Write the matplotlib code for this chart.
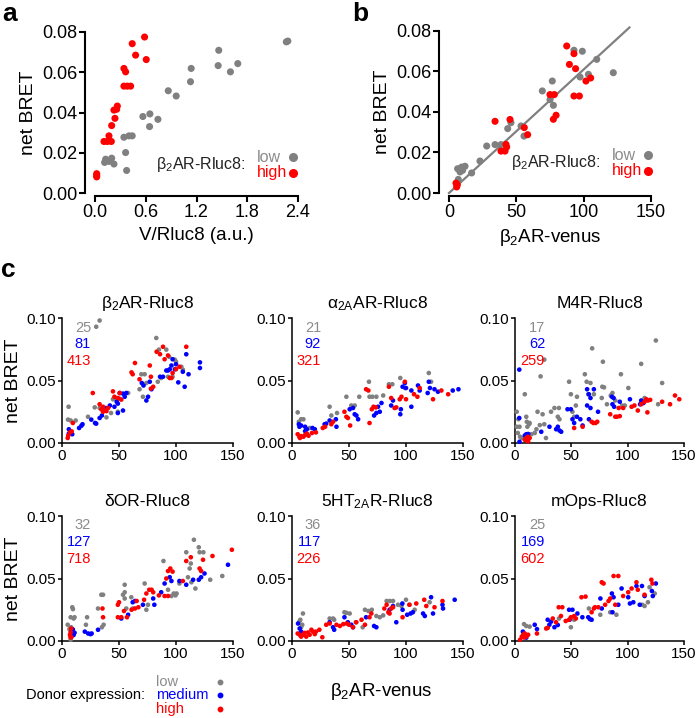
import matplotlib
matplotlib.use("Agg")
import matplotlib.pyplot as plt
import numpy as np

plt.rcParams['font.family'] = ['Liberation Sans', 'DejaVu Sans']
plt.rcParams['mathtext.fontset'] = 'custom'
plt.rcParams['mathtext.rm'] = 'Liberation Sans'
plt.rcParams['mathtext.it'] = 'Liberation Sans:italic'
plt.rcParams['mathtext.bf'] = 'Liberation Sans:bold'

GRAY = '#808080'
LGRAY = '#8c8c8c'
BLUE = '#0000FF'
RED = '#FF0000'

# ---------------- data ----------------
a_low = [(0.126, 0.0168), (0.165, 0.0157), (0.197, 0.0173), (0.224, 0.0144), (0.114, 0.0152),
         (0.362, 0.0201), (0.374, 0.0112), (0.342, 0.0277), (0.401, 0.0284), (0.44, 0.0284),
         (0.566, 0.0380), (0.649, 0.0393), (0.645, 0.0330), (0.744, 0.0366), (0.866, 0.0508),
         (0.96, 0.0482), (1.129, 0.0553), (1.137, 0.0619), (1.463, 0.0709), (1.456, 0.0633),
         (1.601, 0.0602), (1.688, 0.0643), (2.262, 0.0751), (2.28, 0.0755)]
a_high = [(0.02, 0.0096), (0.02, 0.0088), (0.02, 0.0080), (0.106, 0.0256), (0.146, 0.0256),
          (0.193, 0.0256), (0.165, 0.0284), (0.197, 0.0335), (0.236, 0.0371), (0.224, 0.0412),
          (0.256, 0.0416), (0.264, 0.0432), (0.342, 0.0619), (0.362, 0.0602), (0.342, 0.0531),
          (0.382, 0.0531), (0.421, 0.0531), (0.44, 0.0742), (0.48, 0.0685), (0.586, 0.0775),
          (0.606, 0.0663)]

b_low = [(6.9, 0.0067), (6.4, 0.0120), (9.4, 0.0128), (11.9, 0.0132), (10.1, 0.0112), (8.2, 0.0104),
         (16.8, 0.0099), (23, 0.0158), (28, 0.0232), (34.2, 0.0239), (38.6, 0.0239), (43.6, 0.0318),
         (46, 0.0347), (53.5, 0.0331), (55.7, 0.0281), (69.3, 0.0504), (75, 0.0461), (76.7, 0.0553),
         (77.5, 0.0433), (92.8, 0.0705), (99, 0.0700), (97.3, 0.0573), (103.5, 0.0586),
         (109.7, 0.0660), (122, 0.0594)]
b_high = [(5.2, 0.0049), (5.7, 0.0030), (6.2, 0.0041), (34.2, 0.0354), (38.6, 0.0207), (41.6, 0.0207),
          (42.3, 0.0240), (42.8, 0.0227), (45.3, 0.0363), (55.9, 0.0323), (58.4, 0.0288),
          (75, 0.0486), (78.2, 0.0486), (77.5, 0.0364), (79.5, 0.0384), (87.4, 0.0726),
          (89.4, 0.0635), (92.8, 0.0688), (94, 0.0614), (92.8, 0.0479), (96.8, 0.0479),
          (101.7, 0.0553), (105.2, 0.0568)]
b_fit_slope = 0.00061
b_fit_range = (0, 134)

c_titles = ['β$_2$AR-Rluc8', 'α$_{\\mathregular{2A}}$AR-Rluc8', 'M4R-Rluc8',
            'δOR-Rluc8', '5HT$_{\\mathregular{2A}}$R-Rluc8', 'mOps-Rluc8']
c_counts = [(25, 81, 413), (21, 92, 321), (17, 62, 259),
            (32, 127, 718), (36, 117, 226), (25, 169, 602)]

c1_low = [(30, 0.093), (33, 0.098), (5.8, 0.029), (5.3, 0.0187), (7.6, 0.018), (12, 0.018),
          (22.8, 0.021), (28.7, 0.0285), (33, 0.028), (36, 0.0275), (39, 0.0205), (43, 0.024),
          (44.7, 0.035), (47.7, 0.035), (50.6, 0.0355), (49, 0.025), (58, 0.040), (68, 0.043),
          (71, 0.037), (69.6, 0.055), (72.5, 0.055), (74, 0.048), (82.7, 0.084), (85, 0.0747),
          (84, 0.049), (87, 0.052), (91.5, 0.0747), (94, 0.069), (99, 0.0667), (100, 0.065),
          (104.7, 0.061), (106, 0.0587), (97, 0.053), (93, 0.053)]
c1_med = [(6, 0.011), (9, 0.007), (7.5, 0.009), (6, 0.0075), (15, 0.012), (17, 0.0138), (18, 0.015),
          (25.7, 0.0187), (29, 0.016), (30, 0.0155), (33, 0.020), (35, 0.022), (39, 0.028),
          (42, 0.030), (46, 0.029), (49, 0.0315), (48, 0.033), (50.6, 0.040), (53.5, 0.0395),
          (55, 0.037), (56.4, 0.040), (49, 0.024), (53.5, 0.026), (70, 0.048), (71.5, 0.046),
          (74, 0.034), (75.5, 0.037), (77, 0.049), (78.5, 0.043), (86, 0.053), (88.6, 0.053),
          (91.5, 0.058), (93, 0.058), (94.5, 0.059), (96, 0.062), (97, 0.067), (99, 0.059),
          (100, 0.063), (102, 0.0485), (106, 0.057), (107.6, 0.045), (109, 0.071),
          (111, 0.055), (121, 0.0645), (121, 0.060)]
c1_high = [(5, 0.004), (5.5, 0.006), (7, 0.0085), (8.5, 0.0093), (9.5, 0.016), (27, 0.040),
           (33, 0.031), (36, 0.029), (37.5, 0.026), (39, 0.0255), (40.5, 0.028), (36, 0.025),
           (34.5, 0.027), (44.7, 0.0413), (46, 0.037), (49, 0.036), (50.6, 0.040), (52, 0.0347),
           (64, 0.064), (61, 0.0565), (62, 0.055), (68, 0.051), (78, 0.0435), (80, 0.045),
           (77, 0.062), (78, 0.053), (83, 0.073), (86, 0.071), (88.6, 0.077), (90, 0.067),
           (93, 0.070), (94.5, 0.052), (96, 0.052), (97, 0.056), (100, 0.059), (103, 0.061),
           (109, 0.077)]

c2_low = [(5, 0.0245), (6, 0.017), (8, 0.019), (10, 0.019), (15.5, 0.012), (33, 0.029),
          (34.5, 0.022), (39.5, 0.024), (47.7, 0.037), (52, 0.030), (55, 0.030), (59, 0.037),
          (67.5, 0.049), (68, 0.037), (70.5, 0.037), (74, 0.037), (80, 0.038), (85, 0.047),
          (88, 0.047), (95, 0.052), (99, 0.044), (120, 0.056), (122, 0.049)]
c2_med = [(6, 0.015), (6.5, 0.013), (8, 0.014), (11.5, 0.013), (13, 0.011), (11.5, 0.0095),
          (18, 0.012), (20, 0.011), (28.6, 0.015), (30, 0.0155), (33, 0.018), (38.5, 0.019),
          (39, 0.013), (50.6, 0.027), (53.5, 0.028), (55, 0.023), (56.5, 0.022), (58, 0.019),
          (72, 0.022), (74, 0.024), (75.5, 0.029), (77, 0.025), (78.5, 0.032), (87, 0.030),
          (88.6, 0.034), (95, 0.023), (95.5, 0.027), (97, 0.045), (99, 0.048), (100, 0.044),
          (104.7, 0.042), (104.7, 0.029), (110.5, 0.046), (112, 0.042), (119, 0.040),
          (121, 0.044), (120, 0.049), (125, 0.043), (128, 0.041), (141, 0.042), (146, 0.043)]
c2_high = [(5, 0.007), (6.5, 0.005), (8, 0.0055), (10, 0.005), (11.5, 0.0065), (13, 0.0075),
           (14.5, 0.0058), (17.5, 0.008), (21, 0.0085), (7, 0.004), (27, 0.012), (29, 0.013),
           (34.5, 0.015), (36, 0.017), (46, 0.025), (47.7, 0.021), (49, 0.020), (51, 0.014),
           (65, 0.043), (67, 0.042), (68, 0.016), (70, 0.027), (71.5, 0.029), (73.5, 0.0285),
           (85, 0.045), (87, 0.036), (90, 0.028), (91.5, 0.0285), (94.5, 0.035), (96, 0.037),
           (99, 0.049), (100, 0.035), (107, 0.039), (110, 0.037), (112, 0.044), (123.7, 0.035),
           (131, 0.042), (137, 0.039)]

c3_low = [(1.5, 0.025), (3, 0.019), (4, 0.013), (1.5, 0.013), (2.5, 0.008), (4.5, 0.005),
          (6, 0.004), (8.7, 0.039), (10, 0.021), (10.5, 0.017), (11, 0.013), (12.5, 0.015),
          (13, 0.016), (14.5, 0.007), (17.5, 0.008), (19, 0.011), (22, 0.0143), (22.7, 0.0533),
          (26, 0.0667), (20, 0.025), (24.5, 0.023), (26, 0.015), (27.5, 0.004), (32, 0.025),
          (35, 0.028), (38, 0.021), (39.5, 0.019), (39, 0.028), (48, 0.049), (49.6, 0.039),
          (51, 0.025), (52.5, 0.021), (55, 0.037), (54, 0.030), (62, 0.055), (63.6, 0.049),
          (67, 0.048), (68.5, 0.0757), (65, 0.039), (70, 0.039), (78, 0.065), (77, 0.036),
          (77.5, 0.045), (79, 0.0445), (81.6, 0.031), (94, 0.055), (85, 0.038), (86.5, 0.040),
          (100.6, 0.044), (112, 0.0633), (115, 0.036), (125, 0.082), (127, 0.031),
          (130.6, 0.048), (95, 0.030), (97.5, 0.030), (89, 0.034)]
c3_med = [(3.8, 0.0587), (3.8, 0.020), (4, 0.001), (8.7, 0.006), (10, 0.007), (11.7, 0.0072),
          (23.3, 0.009), (30.6, 0.013), (36.5, 0.011), (38, 0.013), (39.5, 0.010), (41, 0.009),
          (46.6, 0.027), (49.6, 0.027), (51, 0.019), (52.5, 0.016), (55, 0.021), (58, 0.019),
          (60, 0.014), (64, 0.043), (65.5, 0.039), (67, 0.036), (70, 0.043), (64, 0.030),
          (67, 0.028), (65.6, 0.019), (73.7, 0.025), (86, 0.037), (87.5, 0.036), (86.5, 0.031),
          (88, 0.029), (93, 0.033), (102, 0.035), (112, 0.034), (114, 0.032), (111, 0.031)]
c3_high = [(8.7, 0.0025), (10, 0.004), (11.7, 0.0013), (13, 0.004), (11.5, 0.005), (52.5, 0.012),
           (60, 0.013), (68, 0.017), (69.5, 0.016), (71.5, 0.016), (73, 0.017), (84.5, 0.023),
           (89, 0.021), (90.5, 0.021), (93, 0.0215), (92, 0.028), (96, 0.028), (103.5, 0.029),
           (106, 0.030), (109, 0.026), (112, 0.031), (115, 0.033), (116.5, 0.035), (118, 0.034),
           (120, 0.0345), (117.5, 0.0245), (130.6, 0.033), (137.6, 0.031), (142, 0.038),
           (145.8, 0.035)]

c4_low = [(5, 0.013), (6.5, 0.0095), (7.6, 0.019), (8, 0.011), (9, 0.027), (9.6, 0.0255),
          (10.2, 0.018), (11, 0.019), (7.6, 0.001), (22, 0.019), (21, 0.013), (31.6, 0.026),
          (34.5, 0.037), (36, 0.037), (35, 0.011), (36.5, 0.013), (55, 0.045), (55, 0.039),
          (55, 0.034), (53.5, 0.037), (56.4, 0.026), (60.8, 0.035), (62, 0.026), (72.5, 0.046),
          (74, 0.025), (75.4, 0.029), (89, 0.064), (93, 0.041), (96, 0.036), (98, 0.038),
          (99.5, 0.0365), (100.5, 0.038), (103, 0.046), (109, 0.071), (110.5, 0.051),
          (112, 0.058), (113, 0.062), (115.7, 0.081), (117, 0.042), (120, 0.075), (120.7, 0.071),
          (124, 0.071), (130, 0.049), (140.6, 0.052), (113.5, 0.047)]
c4_med = [(8, 0.0075), (9.5, 0.0093), (10.2, 0.0048), (11, 0.0066), (20, 0.0075), (23, 0.006),
          (25, 0.0055), (26, 0.006), (31.6, 0.009), (52, 0.018), (58, 0.021), (62, 0.031),
          (64, 0.032), (71, 0.029), (80, 0.034), (81, 0.029), (87, 0.039), (90, 0.046),
          (94.5, 0.051), (96, 0.048), (103, 0.048), (109, 0.045), (115, 0.049), (120, 0.049),
          (122, 0.051), (125, 0.054), (145.6, 0.061)]
c4_high = [(7, 0.005), (7.6, 0.007), (8, 0.010), (7.4, 0.003), (8.2, 0.003), (36, 0.019),
           (35.5, 0.026), (49, 0.029), (50, 0.031), (49, 0.019), (52, 0.019), (57, 0.019),
           (54.4, 0.024), (61, 0.025), (64, 0.026), (65.5, 0.032), (67, 0.027), (72, 0.033),
           (74, 0.038), (76.5, 0.041), (78.6, 0.041), (80, 0.039), (85, 0.0365), (90, 0.036),
           (93, 0.036), (91.5, 0.050), (93, 0.056), (95, 0.058), (97, 0.0555), (106, 0.048),
           (109, 0.064), (113, 0.067), (120.7, 0.058), (122, 0.056), (123.7, 0.065),
           (132, 0.068), (149, 0.073)]

c5_low = [(6.7, 0.016), (7.3, 0.017), (9.6, 0.022), (8, 0.011), (9, 0.013), (33, 0.018),
          (36, 0.018), (37, 0.017), (46, 0.023), (47.7, 0.0225), (50.6, 0.022), (56, 0.015),
          (62, 0.011), (64, 0.025), (67, 0.024), (70, 0.025), (74, 0.020), (77, 0.019),
          (80, 0.0205), (83, 0.032), (85.8, 0.032), (88.6, 0.032), (93, 0.029), (96, 0.028),
          (100, 0.033), (107.6, 0.025), (103, 0.029), (120.7, 0.031)]
c5_med = [(5.3, 0.014), (6.7, 0.010), (8, 0.0075), (9.6, 0.006), (33, 0.015), (36, 0.011),
          (37, 0.009), (46, 0.019), (49, 0.015), (52, 0.013), (53.5, 0.011), (65, 0.019),
          (72, 0.012), (74, 0.011), (85.6, 0.025), (88.6, 0.028), (91.5, 0.015), (96.8, 0.030),
          (97, 0.025), (101, 0.021), (104, 0.022), (106, 0.023), (115, 0.022), (116.5, 0.020),
          (122, 0.035), (123.7, 0.022), (132, 0.029), (132.5, 0.026), (142.7, 0.033)]
c5_high = [(5, 0.006), (6.7, 0.005), (8, 0.0035), (9.6, 0.005), (11, 0.0065), (12.5, 0.0035),
           (14, 0.0068), (15.5, 0.005), (17, 0.009), (18.5, 0.0075), (20, 0.0055), (21, 0.0075),
           (24, 0.009), (26.6, 0.003), (30, 0.013), (33, 0.014), (39, 0.013), (42, 0.012),
           (45, 0.0135), (48, 0.014), (50, 0.013), (53.5, 0.011), (56.4, 0.015), (61, 0.017),
           (64, 0.013), (68, 0.019), (69.6, 0.022), (81, 0.026), (83, 0.029), (84.5, 0.023),
           (85.6, 0.022), (87, 0.026), (88.6, 0.027), (97, 0.019), (103, 0.029), (109, 0.030),
           (116, 0.033), (117.8, 0.028), (125, 0.027), (132, 0.032)]

c6_low = [(8, 0.0135), (10, 0.012), (13, 0.0115), (39, 0.018), (49.6, 0.011), (52.5, 0.017),
          (65.6, 0.026), (75.7, 0.021), (84.5, 0.023), (90, 0.021), (113, 0.029), (115, 0.028),
          (118, 0.031), (119.4, 0.043), (124, 0.038)]
c6_med = [(7, 0.0075), (8.5, 0.0035), (10, 0.0027), (17.5, 0.013), (19.5, 0.0095), (29, 0.017),
          (30.5, 0.013), (32, 0.0155), (35, 0.011), (38, 0.0128), (48, 0.025), (51, 0.025),
          (48.5, 0.017), (55.4, 0.022), (59.8, 0.019), (65, 0.019), (68, 0.017), (66.5, 0.0175),
          (75.8, 0.034), (77, 0.026), (86, 0.038), (87.5, 0.035), (86.5, 0.023), (91.7, 0.029),
          (94.6, 0.042), (100.5, 0.035), (102, 0.030), (105, 0.031), (107.8, 0.044),
          (112.7, 0.044), (110.7, 0.029), (115, 0.036), (121.5, 0.040), (122.3, 0.036),
          (125, 0.046)]
c6_high = [(4.5, 0.001), (6, 0.0035), (7.3, 0.005), (8, 0.0028), (8.7, 0.006), (10, 0.0035),
           (11.7, 0.005), (19.5, 0.006), (27.7, 0.010), (29, 0.0105), (33.5, 0.018), (36.4, 0.015),
           (38.8, 0.027), (42, 0.027), (40.8, 0.020), (45, 0.016), (48, 0.017), (49.6, 0.019),
           (52.5, 0.020), (54, 0.018), (59, 0.035), (62.6, 0.0355), (68, 0.023), (70, 0.026),
           (71, 0.027), (77, 0.047), (78.6, 0.046), (74, 0.027), (80, 0.029), (83, 0.032),
           (84.5, 0.034), (87.5, 0.052), (91.7, 0.052), (89, 0.029), (96, 0.036), (100.5, 0.039),
           (103.5, 0.042), (107.8, 0.047), (109, 0.041), (115, 0.037), (121, 0.049), (122, 0.046)]

c_series = [(c1_low, c1_med, c1_high), (c2_low, c2_med, c2_high), (c3_low, c3_med, c3_high),
            (c4_low, c4_med, c4_high), (c5_low, c5_med, c5_high), (c6_low, c6_med, c6_high)]

# ---------------- layout ----------------
W, H = 697, 718
fig = plt.figure(figsize=(W / 100, H / 100), dpi=100)


def add_ax(l, t, r, b):
    return fig.add_axes([l / W, 1 - b / H, (r - l) / W, (b - t) / H])


def fxy(x, y):
    return x / W, 1 - y / H


def style(ax, xmax, ymax, xticks, yticks, xfmt, yfmt, lw, tsize, tlen, out_l, out_b):
    for s in ['top', 'right']:
        ax.spines[s].set_visible(False)
    ax.spines['left'].set_position(('outward', out_l))
    ax.spines['bottom'].set_position(('outward', out_b))
    ax.spines['left'].set_bounds(0, ymax)
    ax.spines['bottom'].set_bounds(0, xmax)
    for s in ['left', 'bottom']:
        ax.spines[s].set_linewidth(lw)
    ax.set_xlim(0, xmax)
    ax.set_ylim(0, ymax)
    ax.set_xticks(xticks)
    ax.set_yticks(yticks)
    ax.set_xticklabels([xfmt.format(v) for v in xticks])
    ax.set_yticklabels([yfmt.format(v) for v in yticks])
    ax.tick_params(width=lw, length=tlen, labelsize=tsize, pad=1.5, direction='out')
    ax.patch.set_alpha(0)


def pts(ax, data, color, s):
    xs = [p[0] for p in data]
    ys = [p[1] for p in data]
    ax.scatter(xs, ys, s=s, color=color, edgecolors='none', clip_on=False, zorder=3)


# Panel a
axa = add_ax(95, 32, 298, 193)
style(axa, 2.4, 0.08, [0, 0.6, 1.2, 1.8, 2.4], [0, 0.02, 0.04, 0.06, 0.08], '{:.1f}', '{:.2f}',
      1.5, 13, 4, 7, 2.5)
pts(axa, a_low, GRAY, 26)
pts(axa, a_high, RED, 26)
axa.set_xlabel('V/Rluc8 (a.u.)', fontsize=13.5, labelpad=4)
axa.set_ylabel('net BRET', fontsize=14, labelpad=4)

# Panel b
axb = add_ax(449, 31, 651, 193)
style(axb, 150, 0.08, [0, 50, 100, 150], [0, 0.02, 0.04, 0.06, 0.08], '{:.0f}', '{:.2f}',
      1.5, 13, 4, 7, 2.5)
fx = np.array(b_fit_range, dtype=float)
axb.plot(fx, b_fit_slope * fx, color=GRAY, lw=1.6, zorder=2, clip_on=False)
pts(axb, b_low, GRAY, 26)
pts(axb, b_high, RED, 26)
axb.set_xlabel('β$_2$AR-venus', fontsize=13.5, labelpad=4)
axb.set_ylabel('net BRET', fontsize=14, labelpad=4)

# legends inside a and b
for (lx, ly, tx, dx) in [(245, 165, 257, 293), (600, 163, 612, 648)]:
    fig.text(*fxy(lx, ly), 'β$_2$AR-Rluc8:', ha='right', va='center', fontsize=11.5, color='#222222')
    fig.text(*fxy(tx, ly - 8), 'low', ha='left', va='center', fontsize=11.5, color=LGRAY)
    fig.text(*fxy(tx, ly + 8), 'high', ha='left', va='center', fontsize=11.5, color=RED)
    fig.lines.append(matplotlib.lines.Line2D([dx / W], [1 - (ly - 8) / H], marker='o', ms=5.5,
                                             color=GRAY, ls='none', transform=fig.transFigure))
    fig.lines.append(matplotlib.lines.Line2D([dx / W], [1 - (ly + 8) / H], marker='o', ms=5.5,
                                             color=RED, ls='none', transform=fig.transFigure))

# Panel c
c_lefts = [62, 292, 515]
c_rights = [233, 463, 684]
c_tops = [318, 516]
c_bottoms = [443, 641]
num_y = [[328, 344, 361], [525, 542, 559]]
num_right = [91, 321, 545]
for i in range(6):
    r, c = divmod(i, 3)
    ax = add_ax(c_lefts[c], c_tops[r], c_rights[c], c_bottoms[r])
    style(ax, 150, 0.10, [0, 50, 100, 150], [0, 0.05, 0.10], '{:.0f}', '{:.2f}',
          1.1, 11, 3, 0, 0)
    low, med, high = c_series[i]
    pts(ax, low, GRAY, 11)
    pts(ax, med, BLUE, 11)
    pts(ax, high, RED, 11)
    ax.set_title(c_titles[i], fontsize=12.5, pad=7)
    if c == 0:
        ax.set_ylabel('net BRET', fontsize=14, labelpad=3)
    n_low, n_med, n_high = c_counts[i]
    for val, col, yy in zip((n_low, n_med, n_high), (LGRAY, BLUE, RED), num_y[r]):
        fig.text(*fxy(num_right[c], yy), str(val), ha='right', va='center', fontsize=10.5, color=col)

# bottom labels
fig.text(*fxy(381, 692), 'β$_2$AR-venus', ha='center', va='center', fontsize=13.5)
fig.text(*fxy(145, 695), 'Donor expression:', ha='right', va='center', fontsize=10.5)
for name, col, yy in [('low', LGRAY, 682), ('medium', BLUE, 695), ('high', RED, 709)]:
    fig.text(*fxy(156, yy), name, ha='left', va='center', fontsize=10.5, color=col)
    fig.lines.append(matplotlib.lines.Line2D([220 / W], [1 - yy / H], marker='o', ms=3.2,
                                             color=GRAY if name == 'low' else col, ls='none',
                                             transform=fig.transFigure))

# panel letters
fig.text(*fxy(10, 14), 'a', fontsize=19, fontweight='bold', ha='center', va='center')
fig.text(*fxy(360, 14), 'b', fontsize=19, fontweight='bold', ha='center', va='center')
fig.text(*fxy(8, 270), 'c', fontsize=19, fontweight='bold', ha='center', va='center')

fig.savefig('out.png', dpi=100)
